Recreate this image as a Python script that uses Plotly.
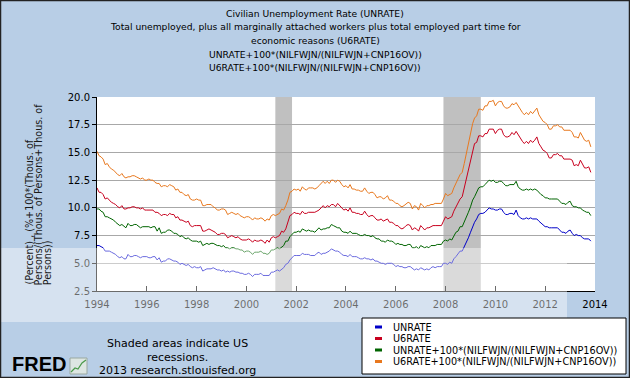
import pandas as pd
import plotly.graph_objects as go

# ---------------- data (monthly, Jan 1994 - Nov 2013) ----------------
unrate = [
    6.6, 6.6, 6.5, 6.4, 6.1, 6.1, 6.1, 6.0, 5.9, 5.8, 5.6, 5.5,
    5.6, 5.4, 5.4, 5.8, 5.6, 5.6, 5.7, 5.7, 5.6, 5.5, 5.6, 5.6,
    5.6, 5.5, 5.5, 5.6, 5.6, 5.3, 5.5, 5.1, 5.2, 5.2, 5.4, 5.4,
    5.3, 5.2, 5.2, 5.1, 4.9, 5.0, 4.9, 4.8, 4.9, 4.7, 4.6, 4.7,
    4.6, 4.6, 4.7, 4.3, 4.4, 4.5, 4.5, 4.5, 4.6, 4.5, 4.4, 4.4,
    4.3, 4.4, 4.2, 4.3, 4.2, 4.3, 4.3, 4.2, 4.2, 4.1, 4.1, 4.0,
    4.0, 4.1, 4.0, 3.8, 4.0, 4.0, 4.0, 4.1, 3.9, 3.9, 3.9, 3.9,
    4.2, 4.2, 4.3, 4.4, 4.3, 4.5, 4.6, 4.9, 5.0, 5.3, 5.5, 5.7,
    5.7, 5.7, 5.7, 5.9, 5.8, 5.8, 5.8, 5.7, 5.7, 5.7, 5.9, 6.0,
    5.8, 5.9, 5.9, 6.0, 6.1, 6.3, 6.2, 6.1, 6.1, 6.0, 5.8, 5.7,
    5.7, 5.6, 5.8, 5.6, 5.6, 5.6, 5.5, 5.4, 5.4, 5.5, 5.4, 5.4,
    5.3, 5.4, 5.2, 5.2, 5.1, 5.0, 5.0, 4.9, 5.0, 5.0, 5.0, 4.9,
    4.7, 4.8, 4.7, 4.7, 4.6, 4.6, 4.7, 4.7, 4.5, 4.4, 4.5, 4.4,
    4.6, 4.5, 4.4, 4.5, 4.4, 4.6, 4.7, 4.6, 4.7, 4.7, 4.7, 5.0,
    5.0, 4.9, 5.1, 5.0, 5.4, 5.6, 5.8, 6.1, 6.1, 6.5, 6.8, 7.3,
    7.8, 8.3, 8.7, 9.0, 9.4, 9.5, 9.5, 9.6, 9.8, 10.0, 9.9, 9.9,
    9.8, 9.8, 9.9, 9.9, 9.6, 9.4, 9.4, 9.5, 9.5, 9.4, 9.8, 9.3,
    9.1, 9.0, 9.0, 9.1, 9.0, 9.1, 9.0, 9.0, 9.0, 8.8, 8.6, 8.5,
    8.3, 8.3, 8.2, 8.2, 8.2, 8.2, 8.2, 8.0, 7.8, 7.8, 7.7, 7.9,
    8.0, 7.7, 7.5, 7.6, 7.5, 7.5, 7.3, 7.2, 7.2, 7.2, 7.0,
]

u6rate = [
    11.8, 11.4, 11.4, 11.2, 10.8, 10.9, 10.7, 10.5, 10.4, 10.3, 10.1, 10.0,
    10.2, 9.9, 9.9, 10.0, 10.0, 10.1, 10.1, 10.0, 10.0, 9.9, 10.0, 9.8,
    9.8, 9.8, 9.8, 9.8, 9.6, 9.6, 9.5, 9.3, 9.4, 9.4, 9.3, 9.5,
    9.4, 9.4, 9.1, 9.2, 8.9, 8.9, 8.8, 8.7, 8.8, 8.4, 8.3, 8.4,
    8.4, 8.4, 8.4, 7.9, 7.9, 8.0, 8.1, 8.0, 7.9, 7.8, 7.6, 7.6,
    7.7, 7.7, 7.6, 7.3, 7.4, 7.5, 7.4, 7.3, 7.4, 7.2, 7.1, 7.1,
    7.1, 7.2, 7.1, 6.9, 7.1, 7.0, 7.0, 7.1, 7.0, 6.8, 7.1, 6.9,
    7.3, 7.4, 7.3, 7.4, 7.5, 7.9, 7.8, 8.1, 8.7, 9.3, 9.4, 9.6,
    9.5, 9.5, 9.4, 9.7, 9.5, 9.5, 9.6, 9.6, 9.6, 9.6, 9.7, 9.8,
    10.0, 10.2, 10.0, 10.2, 10.1, 10.3, 10.3, 10.1, 10.4, 10.2, 10.0, 9.8,
    9.9, 9.7, 10.0, 9.6, 9.6, 9.5, 9.5, 9.4, 9.4, 9.7, 9.4, 9.2,
    9.3, 9.3, 9.1, 8.9, 8.9, 9.0, 8.8, 8.9, 9.0, 8.7, 8.7, 8.6,
    8.4, 8.4, 8.2, 8.1, 8.2, 8.4, 8.5, 8.4, 8.0, 8.2, 8.1, 7.9,
    8.4, 8.2, 8.0, 8.2, 8.2, 8.3, 8.4, 8.4, 8.4, 8.4, 8.4, 8.8,
    9.2, 9.0, 9.1, 9.2, 9.7, 10.1, 10.5, 10.8, 11.0, 11.8, 12.6, 13.6,
    14.2, 15.2, 15.8, 15.9, 16.5, 16.5, 16.4, 16.7, 16.7, 17.1, 17.1, 17.1,
    16.7, 17.0, 17.1, 17.1, 16.6, 16.4, 16.4, 16.5, 16.8, 16.6, 16.9, 16.6,
    16.2, 16.0, 15.8, 16.0, 15.8, 16.1, 15.9, 16.1, 16.4, 15.8, 15.5, 15.2,
    15.1, 14.9, 14.5, 14.5, 14.8, 14.8, 14.9, 14.7, 14.7, 14.4, 14.4, 14.4,
    14.4, 14.3, 13.8, 13.9, 13.8, 14.3, 13.9, 13.6, 13.6, 13.7, 13.2,
]

unrate_plus = [
    9.9, 9.9, 9.7, 9.6, 9.2, 9.2, 9.1, 9.0, 8.9, 8.7, 8.5, 8.4,
    8.5, 8.3, 8.2, 8.6, 8.4, 8.4, 8.5, 8.5, 8.3, 8.2, 8.3, 8.3,
    8.3, 8.3, 8.2, 8.3, 8.3, 7.9, 8.2, 7.7, 7.8, 7.8, 8.0, 8.0,
    7.9, 7.7, 7.7, 7.6, 7.4, 7.5, 7.3, 7.2, 7.3, 7.1, 7.0, 7.0,
    7.0, 6.9, 7.0, 6.6, 6.7, 6.8, 6.7, 6.8, 6.8, 6.7, 6.6, 6.6,
    6.5, 6.6, 6.4, 6.4, 6.3, 6.4, 6.4, 6.3, 6.3, 6.2, 6.2, 6.0,
    6.1, 6.1, 6.0, 5.8, 6.0, 6.0, 6.0, 6.1, 5.9, 5.9, 5.8, 5.9,
    6.2, 6.2, 6.3, 6.4, 6.3, 6.5, 6.6, 7.0, 7.0, 7.4, 7.6, 7.8,
    7.8, 7.9, 7.8, 8.1, 8.0, 7.9, 8.0, 7.9, 7.9, 7.8, 8.0, 8.2,
    8.0, 8.1, 8.1, 8.2, 8.2, 8.5, 8.4, 8.3, 8.2, 8.2, 7.9, 7.8,
    7.8, 7.7, 7.9, 7.7, 7.7, 7.7, 7.6, 7.5, 7.5, 7.6, 7.5, 7.5,
    7.4, 7.5, 7.3, 7.2, 7.2, 7.0, 7.0, 6.9, 7.1, 7.0, 7.0, 6.9,
    6.7, 6.8, 6.7, 6.7, 6.6, 6.6, 6.7, 6.7, 6.4, 6.4, 6.5, 6.3,
    6.6, 6.5, 6.4, 6.5, 6.4, 6.6, 6.6, 6.6, 6.7, 6.7, 6.7, 7.0,
    7.1, 7.0, 7.2, 7.1, 7.5, 7.8, 7.9, 8.3, 8.3, 8.7, 9.1, 9.6,
    10.1, 10.7, 11.0, 11.4, 11.8, 11.9, 11.9, 12.1, 12.3, 12.5, 12.4, 12.5,
    12.3, 12.3, 12.4, 12.4, 12.2, 12.0, 12.0, 12.1, 12.1, 12.1, 12.4, 11.9,
    11.7, 11.6, 11.6, 11.7, 11.6, 11.7, 11.6, 11.7, 11.6, 11.4, 11.2, 11.1,
    10.9, 10.9, 10.8, 10.8, 10.8, 10.8, 10.8, 10.6, 10.4, 10.4, 10.3, 10.5,
    10.6, 10.2, 10.1, 10.1, 10.0, 10.0, 9.8, 9.7, 9.6, 9.6, 9.3,
]

u6rate_plus = [
    15.1, 14.7, 14.6, 14.4, 13.9, 14.0, 13.7, 13.5, 13.4, 13.2, 13.0, 12.9,
    13.1, 12.8, 12.7, 12.8, 12.8, 12.9, 12.9, 12.8, 12.7, 12.6, 12.7, 12.5,
    12.5, 12.6, 12.5, 12.5, 12.3, 12.2, 12.2, 11.9, 12.0, 12.0, 11.9, 12.1,
    12.0, 11.9, 11.6, 11.7, 11.4, 11.4, 11.2, 11.1, 11.2, 10.8, 10.7, 10.7,
    10.8, 10.7, 10.7, 10.2, 10.2, 10.3, 10.3, 10.3, 10.1, 10.0, 9.8, 9.8,
    9.9, 9.9, 9.8, 9.4, 9.5, 9.6, 9.5, 9.4, 9.5, 9.3, 9.2, 9.1,
    9.2, 9.2, 9.1, 8.9, 9.1, 9.0, 9.0, 9.1, 9.0, 8.8, 9.0, 8.9,
    9.3, 9.4, 9.3, 9.4, 9.5, 9.9, 9.8, 10.2, 10.7, 11.4, 11.5, 11.7,
    11.6, 11.7, 11.5, 11.9, 11.7, 11.6, 11.8, 11.8, 11.8, 11.7, 11.8, 12.0,
    12.2, 12.4, 12.2, 12.4, 12.2, 12.5, 12.5, 12.3, 12.5, 12.4, 12.1, 11.9,
    12.0, 11.8, 12.1, 11.7, 11.7, 11.6, 11.6, 11.5, 11.5, 11.8, 11.5, 11.3,
    11.4, 11.4, 11.2, 10.9, 11.0, 11.0, 10.8, 10.9, 11.1, 10.7, 10.7, 10.6,
    10.4, 10.4, 10.2, 10.1, 10.2, 10.4, 10.5, 10.4, 9.9, 10.2, 10.1, 9.8,
    10.4, 10.2, 10.0, 10.2, 10.2, 10.3, 10.3, 10.4, 10.4, 10.4, 10.4, 10.8,
    11.3, 11.1, 11.2, 11.3, 11.8, 12.3, 12.6, 13.0, 13.2, 14.0, 14.9, 15.9,
    16.5, 17.6, 18.1, 18.3, 18.9, 18.9, 18.8, 19.2, 19.2, 19.6, 19.6, 19.7,
    19.2, 19.5, 19.6, 19.6, 19.2, 19.0, 19.0, 19.1, 19.4, 19.3, 19.5, 19.2,
    18.8, 18.6, 18.4, 18.6, 18.4, 18.7, 18.5, 18.8, 19.0, 18.4, 18.1, 17.8,
    17.7, 17.5, 17.1, 17.1, 17.4, 17.4, 17.5, 17.3, 17.3, 17.0, 17.0, 17.0,
    17.0, 16.8, 16.4, 16.4, 16.3, 16.8, 16.4, 16.1, 16.0, 16.1, 15.5,
]

series_names = [
    "UNRATE",
    "U6RATE",
    "UNRATE+100*(NILFWJN/(NILFWJN+CNP16OV))",
    "U6RATE+100*(NILFWJN/(NILFWJN+CNP16OV))",
]
series_colors = ["#0000C8", "#C8001E", "#006400", "#E8781E"]

recession_starts = ["2001-03-01", "2007-12-01"]
recession_ends = ["2001-11-01", "2009-06-01"]

x_tick_years = ["1994", "1996", "1998", "2000", "2002", "2004",
                "2006", "2008", "2010", "2012", "2014"]
y_tick_vals = [2.5, 5.0, 7.5, 10.0, 12.5, 15.0, 17.5, 20.0]

title_lines = [
    "Civilian Unemployment Rate (UNRATE)",
    "Total unemployed, plus all marginally attached workers plus total employed part time for",
    "economic reasons (U6RATE)",
    "UNRATE+100*(NILFWJN/(NILFWJN+CNP16OV))",
    "U6RATE+100*(NILFWJN/(NILFWJN+CNP16OV))",
]
ytitle_lines = [
    "(Percent) , (%+100*(Thous. of",
    "Persons/(Thous. of Persons+Thous. of",
    "Persons))",
]

dates = pd.date_range("1994-01-01", periods=len(unrate), freq="MS")

# ---------------- layout geometry (pixels) ----------------
FW, FH = 630, 378
L, R, T, B = 97, 595, 97, 291
PW, PH = R - L, B - T


def px(xp):
    return (xp - L) / PW


def py(yp):
    return (B - yp) / PH


BG = "#B8CEE6"
FONT = "DejaVu Sans, Verdana, sans-serif"

fig = go.Figure()
for vals, name, col in zip([unrate, u6rate, unrate_plus, u6rate_plus],
                           series_names, series_colors):
    fig.add_trace(go.Scatter(x=dates, y=vals, mode="lines", name=name,
                             line=dict(color=col, width=1),
                             showlegend=False, hoverinfo="skip"))

shapes = []
for s, e in zip(recession_starts, recession_ends):
    shapes.append(dict(type="rect", xref="x", yref="paper", x0=s, x1=e,
                       y0=0, y1=1, fillcolor="#C0C0C0", line_width=0,
                       layer="below"))

# watermark-like lighter band (lower left of the picture)
shapes.append(dict(type="rect", xref="paper", yref="paper",
                   x0=px(0), x1=px(567), y0=py(322), y1=py(248),
                   fillcolor="white", opacity=0.42, line_width=0,
                   layer="above"))

# legend box
shapes.append(dict(type="rect", xref="paper", yref="paper",
                   x0=px(362), x1=px(626), y0=py(374), y1=py(318),
                   fillcolor="white", line=dict(color="black", width=1),
                   layer="above"))
legend_rows = [327, 338.5, 350, 361.5]
annotations = []
for yy, name, col in zip(legend_rows, series_names, series_colors):
    shapes.append(dict(type="line", xref="paper", yref="paper",
                       x0=px(375), x1=px(382), y0=py(yy), y1=py(yy),
                       line=dict(color=col, width=3), layer="above"))
    annotations.append(dict(xref="paper", yref="paper", x=px(391), y=py(yy),
                            xanchor="left", yanchor="middle", showarrow=False,
                            text=name, font=dict(family=FONT, size=9.7,
                                                 color="black")))

# FRED icon box
shapes.append(dict(type="rect", xref="paper", yref="paper",
                   x0=px(70), x1=px(87), y0=py(374), y1=py(358),
                   fillcolor="#DDE6E2", line=dict(color="#9AA8A0", width=1),
                   layer="above"))
shapes.append(dict(type="path", xref="paper", yref="paper",
                   path=(f"M {px(71)},{py(372)} L {px(75)},{py(368)} "
                         f"L {px(78)},{py(369)} L {px(82)},{py(363)} "
                         f"L {px(86)},{py(360)}"),
                   line=dict(color="#4A9A4A", width=1.2), layer="above"))

# outer border
shapes.append(dict(type="rect", xref="paper", yref="paper",
                   x0=px(0.5), x1=px(629.5), y0=py(377.5), y1=py(0.5),
                   line=dict(color="#222222", width=1.5), layer="above"))

# title lines
for i, t in enumerate(title_lines):
    annotations.append(dict(xref="paper", yref="paper", x=px(315),
                            y=py(13.3 + 13.6 * i), xanchor="center",
                            yanchor="middle", showarrow=False, text=t,
                            font=dict(family=FONT, size=9.2, color="black")))

# y-axis title (rotated, bottom aligned)
for i, t in enumerate(ytitle_lines):
    annotations.append(dict(xref="paper", yref="paper", x=px(29 + 9.4 * i),
                            y=py(287), xanchor="center", yanchor="bottom",
                            textangle=-90, showarrow=False, text=t,
                            font=dict(family=FONT, size=9.6, color="#1a1a1a")))

# bottom-left notes
for t, yy in zip(["Shaded areas indicate US", "recessions.",
                  "2013 research.stlouisfed.org"], [343, 357, 370]):
    annotations.append(dict(xref="paper", yref="paper", x=px(177), y=py(yy),
                            xanchor="center", yanchor="middle",
                            showarrow=False, text=t,
                            font=dict(family=FONT, size=11, color="black")))
annotations.append(dict(xref="paper", yref="paper", x=px(39), y=py(364),
                        xanchor="center", yanchor="middle", showarrow=False,
                        text="<b>FRED</b>",
                        font=dict(family="Liberation Sans, Arial", size=20,
                                  color="black")))

fig.update_layout(
    width=FW, height=FH,
    margin=dict(l=L, r=FW - R, t=T, b=FH - B, pad=0, autoexpand=False),
    paper_bgcolor=BG, plot_bgcolor="white",
    showlegend=False,
    shapes=shapes, annotations=annotations,
    xaxis=dict(type="date", range=["1994-01-01", "2014-01-01"],
               tickvals=[f"{y}-01-01" for y in x_tick_years],
               ticktext=x_tick_years,
               ticks="inside", ticklen=5, tickcolor="black",
               showline=True, linecolor="black", linewidth=1,
               showgrid=False, zeroline=False, automargin=False,
               ticklabelstandoff=4,
               tickfont=dict(family=FONT, size=10, color="black")),
    yaxis=dict(range=[2.5, 20.0], tickvals=y_tick_vals,
               ticktext=[f"{v:.1f}" for v in y_tick_vals],
               ticks="outside", ticklen=4, tickcolor="black",
               showline=True, linecolor="black", linewidth=1,
               showgrid=True, gridcolor="#A8A8A8", gridwidth=1,
               zeroline=False, automargin=False,
               tickfont=dict(family=FONT, size=10, color="black")),
)

fig.write_html(
    "out.html",
    config={"displayModeBar": False},
    post_script=("document.body.style.margin='0';"
                 "document.body.style.padding='0';"
                 "document.body.style.overflow='hidden';"),
)
